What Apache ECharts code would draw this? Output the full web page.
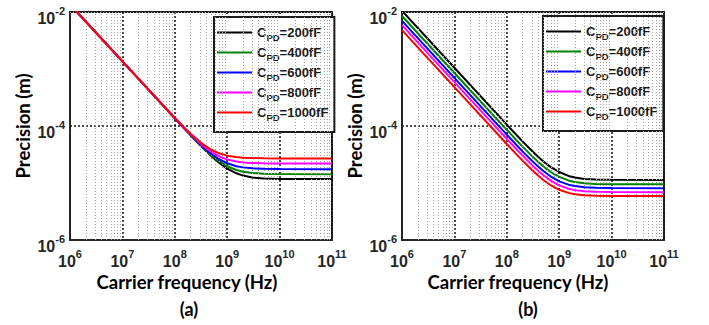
<!DOCTYPE html>
<html><head><meta charset="utf-8">
<script src="https://cdn.jsdelivr.net/npm/echarts@6/dist/echarts.min.js"></script>
<style>html,body{margin:0;padding:0;background:#fff}#c{width:709px;height:325px}</style>
</head><body><div id="c"></div>
<script>
// Carrier frequency (Hz)
const freq = [1e6, 1e7, 1e8, 1.5e8, 2e8, 3e8, 4e8, 5e8, 7e8, 1e9, 1.5e9, 2e9, 3e9, 5e9, 1e10, 1e11];
const seriesNames = ['C_PD=200fF', 'C_PD=400fF', 'C_PD=600fF', 'C_PD=800fF', 'C_PD=1000fF'];
const panelLabels = ['(a)', '(b)'];
const xTitle = 'Carrier frequency (Hz)';
const yTitle = 'Precision (m)';

// Panel (a) precision (m)
const a200  = [1.36e-2, 1.36e-3, 1.365e-4, 9.14e-5, 6.90e-5, 4.68e-5, 3.60e-5, 2.96e-5, 2.27e-5, 1.79e-5, 1.48e-5, 1.35e-5, 1.25e-5, 1.20e-5, 1.18e-5, 1.17e-5];
const a400  = [1.36e-2, 1.36e-3, 1.367e-4, 9.18e-5, 6.95e-5, 4.75e-5, 3.69e-5, 3.07e-5, 2.41e-5, 1.97e-5, 1.69e-5, 1.58e-5, 1.50e-5, 1.46e-5, 1.44e-5, 1.43e-5];
const a600  = [1.36e-2, 1.36e-3, 1.371e-4, 9.24e-5, 7.02e-5, 4.86e-5, 3.82e-5, 3.23e-5, 2.61e-5, 2.22e-5, 1.97e-5, 1.88e-5, 1.81e-5, 1.77e-5, 1.76e-5, 1.75e-5];
const a800  = [1.36e-2, 1.36e-3, 1.378e-4, 9.33e-5, 7.15e-5, 5.04e-5, 4.05e-5, 3.50e-5, 2.93e-5, 2.59e-5, 2.38e-5, 2.30e-5, 2.25e-5, 2.22e-5, 2.20e-5, 2.20e-5];
const a1000 = [1.36e-2, 1.36e-3, 1.387e-4, 9.46e-5, 7.32e-5, 5.27e-5, 4.34e-5, 3.83e-5, 3.32e-5, 3.02e-5, 2.85e-5, 2.78e-5, 2.74e-5, 2.71e-5, 2.70e-5, 2.70e-5];

// Panel (b) precision (m)
const b200  = [1.05e-2, 1.05e-3, 1.056e-4, 7.09e-5, 5.37e-5, 3.68e-5, 2.86e-5, 2.38e-5, 1.88e-5, 1.56e-5, 1.33e-5, 1.25e-5, 1.18e-5, 1.15e-5, 1.14e-5, 1.13e-5];
const b400  = [8.5e-3, 8.5e-4, 8.55e-5, 5.75e-5, 4.35e-5, 2.99e-5, 2.33e-5, 1.95e-5, 1.54e-5, 1.28e-5, 1.11e-5, 1.04e-5, 9.9e-6, 9.65e-6, 9.55e-6, 9.5e-6];
const b600  = [7.0e-3, 7.0e-4, 7.05e-5, 4.74e-5, 3.59e-5, 2.47e-5, 1.93e-5, 1.62e-5, 1.29e-5, 1.07e-5, 9.35e-6, 8.83e-6, 8.43e-6, 8.22e-6, 8.13e-6, 8.1e-6];
const b800  = [5.9e-3, 5.9e-4, 5.94e-5, 3.99e-5, 3.03e-5, 2.08e-5, 1.63e-5, 1.37e-5, 1.09e-5, 9.08e-6, 7.94e-6, 7.5e-6, 7.17e-6, 7.0e-6, 6.92e-6, 6.9e-6];
const b1000 = [4.8e-3, 4.8e-4, 4.84e-5, 3.25e-5, 2.47e-5, 1.71e-5, 1.34e-5, 1.13e-5, 9.05e-6, 7.61e-6, 6.71e-6, 6.37e-6, 6.11e-6, 5.98e-6, 5.92e-6, 5.9e-6];

const panels = [[a200, a400, a600, a800, a1000], [b200, b400, b600, b800, b1000]];
const colors = ['#000000', '#008000', '#0000ff', '#ff00ff', '#ff0000'];

// minor grid positions (2..9 x each decade)
const xMinor = [];
for (let d = 6; d <= 10; d++) for (let m = 2; m <= 9; m++) xMinor.push(m * Math.pow(10, d));
const yMinor = [];
for (let d = -6; d <= -3; d++) for (let m = 1; m <= 9; m++) {
  if (m === 1 && (d === -6 || d === -4)) continue;
  yMinor.push(m * Math.pow(10, d));
}

const tickFont = 'Liberation Sans';
const titleFont = 'Lato';
const powFmt = v => {
  const e = Math.round(Math.log10(v));
  return '{b|10}{s|' + e + '}';
};
const tickRich = {
  b: { fontFamily: tickFont, fontWeight: 'bold', fontSize: 16, lineHeight: 14, padding: [5, 0, 0, 0], verticalAlign: 'top', color: '#262626' },
  s: { fontFamily: tickFont, fontWeight: 'bold', fontSize: 11, lineHeight: 11, verticalAlign: 'top', color: '#262626' }
};

const gridLefts = [70, 402];
const grids = gridLefts.map(l => ({
  left: l, top: 12, width: 262, height: 228, show: true,
  borderColor: '#262626', borderWidth: 2, backgroundColor: 'transparent'
}));

const xAxes = gridLefts.map((l, g) => ({
  type: 'log', logBase: 10, gridIndex: g, min: 1e6, max: 1e11, interval: 1,
  axisLine: { show: true, onZero: false, lineStyle: { color: '#262626', width: 2 } },
  axisTick: { show: false },
  axisLabel: { formatter: powFmt, rich: tickRich, margin: 8, showMinLabel: true, showMaxLabel: true },
  splitLine: { show: true, lineStyle: { color: '#111', type: [2, 2], width: 1.5 } }
}));
const yAxes = gridLefts.map((l, g) => ({
  type: 'log', logBase: 10, gridIndex: g, min: 1e-6, max: 1e-2, interval: 2,
  axisLine: { show: true, onZero: false, lineStyle: { color: '#262626', width: 2 } },
  axisTick: { show: false },
  axisLabel: { formatter: powFmt, rich: tickRich, margin: 5, showMinLabel: true, showMaxLabel: true },
  splitLine: { show: true, lineStyle: { color: '#111', type: [2, 2], width: 1.5 } },
  name: yTitle, nameLocation: 'middle', nameRotate: 90, nameGap: 38,
  nameTextStyle: { fontFamily: titleFont, fontWeight: 'bold', fontSize: 18.5, color: '#000' }
}));

const series = [];
panels.forEach((vals, g) => {
  series.push({
    type: 'line', xAxisIndex: g, yAxisIndex: g, data: [], silent: true, z: 1,
    markLine: {
      silent: true, symbol: ['none', 'none'], label: { show: false }, animation: false,
      lineStyle: { color: '#a4a4a4', type: [1, 2], width: 1 },
      data: xMinor.map(v => ({ xAxis: v })).concat(yMinor.map(v => ({ yAxis: v })))
    }
  });
  vals.forEach((arr, i) => {
    series.push({
      type: 'line', name: seriesNames[i], xAxisIndex: g, yAxisIndex: g,
      data: freq.map((f, j) => [f, arr[j]]),
      symbol: 'none', smooth: false, clip: true, z: 3 + i,
      lineStyle: { width: 2, color: colors[i] }, itemStyle: { color: colors[i] }
    });
  });
});

const legendRich = {
  c: { fontFamily: tickFont, fontWeight: 'bold', fontSize: 13, lineHeight: 13, verticalAlign: 'top', color: '#1a1a1a' },
  s: { fontFamily: tickFont, fontWeight: 'bold', fontSize: 9.5, lineHeight: 10, padding: [6, 0, 0, 0], verticalAlign: 'top', color: '#1a1a1a' }
};
const legendPos = [[214, 17], [543, 16]];
const legends = legendPos.map(p => ({
  data: seriesNames, orient: 'vertical', left: p[0], top: p[1], width: 114,
  backgroundColor: '#fff', borderColor: '#1a1a1a', borderWidth: 2,
  padding: [9, 6, 10, 3], itemWidth: 35, itemHeight: 2, itemGap: 4,
  icon: 'rect', selectedMode: false,
  formatter: n => '{c|C}{s|PD}{c|=' + n.split('=')[1] + '}',
  textStyle: { rich: legendRich }
}));

const graphics = [];
const nameCenters = [187, 518];
const panelCenters = [189, 528];
nameCenters.forEach((x, g) => {
  graphics.push({ type: 'text', x: x, y: 282, style: { text: xTitle, fontFamily: titleFont, fontWeight: 'bold', fontSize: 18.5, lineHeight: 18, fill: '#000', align: 'center', verticalAlign: 'middle', textAlign: 'center', textVerticalAlign: 'middle' } });
  graphics.push({ type: 'text', x: panelCenters[g], y: 309, style: { text: panelLabels[g], fontFamily: titleFont, fontWeight: 'bold', fontSize: 18, lineHeight: 18, fill: '#000', align: 'center', verticalAlign: 'middle', textAlign: 'center', textVerticalAlign: 'middle' } });
});

const chart = echarts.init(document.getElementById('c'), null, { renderer: 'svg' });
chart.setOption({
  animation: false,
  backgroundColor: '#fff',
  grid: grids, xAxis: xAxes, yAxis: yAxes,
  legend: legends, series: series, graphic: graphics
});
</script></body></html>
